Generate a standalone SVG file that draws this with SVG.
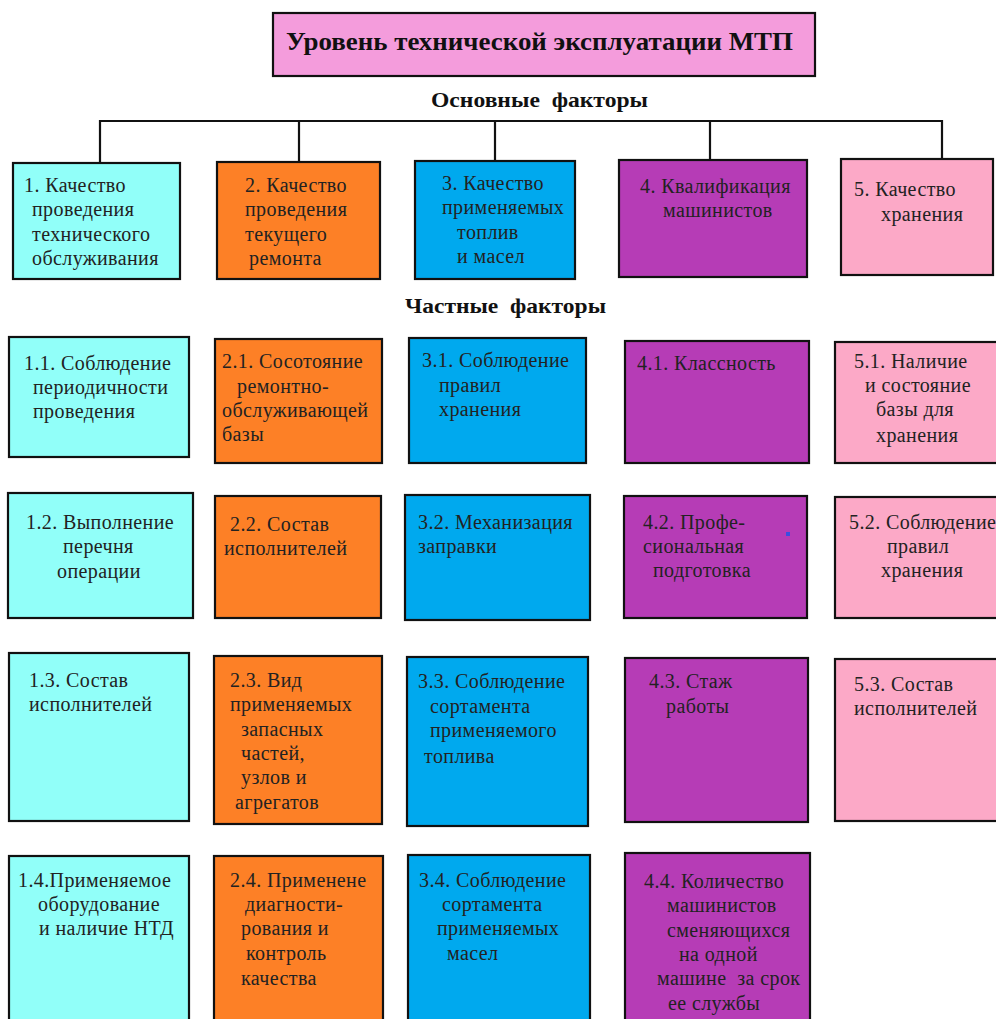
<svg xmlns="http://www.w3.org/2000/svg" width="996" height="1019" viewBox="0 0 996 1019">
<style>
.b{stroke:#111;stroke-width:2.2}
.c1{fill:#91FFF9}.c2{fill:#FD8026}.c3{fill:#00A9EE}.c4{fill:#B63CB6}.c5{fill:#FCA9C7}
.t{font-family:"Liberation Serif","Times New Roman",serif;font-size:20px;fill:#222;letter-spacing:0.4px}
.h{font-family:"Liberation Serif","Times New Roman",serif;font-weight:bold;fill:#111}
.ln{stroke:#111;stroke-width:2.2;fill:none}
</style>
<rect width="996" height="1019" fill="#fff"/>
<g id="title">
<rect class="b" x="273" y="13" width="542" height="63" fill="#F49CDC"/>
<text class="h" x="286" y="50" font-size="25" textLength="507" lengthAdjust="spacingAndGlyphs">Уровень технической эксплуатации МТП</text>
</g>
<g id="label-main"><text class="h" x="431" y="107" font-size="22" textLength="217" lengthAdjust="spacingAndGlyphs" xml:space="preserve">Основные  факторы</text></g>
<g id="label-partial"><text class="h" x="405" y="313" font-size="22" textLength="201" lengthAdjust="spacingAndGlyphs" xml:space="preserve">Частные  факторы</text></g>
<g id="connectors">
<path class="ln" d="M100 121H942M100 120V163M299 120V162M495 120V161M710 120V160M942 120V159"/>
</g>
<g id="n1"><rect class="b c1" x="13" y="163" width="167" height="116"/>
<text class="t"><tspan x="24" y="192">1. Качество</tspan><tspan x="32" y="216">проведения</tspan><tspan x="32" y="241">технического</tspan><tspan x="32" y="265">обслуживания</tspan></text></g>
<g id="n2"><rect class="b c2" x="217" y="162" width="163" height="117"/>
<text class="t"><tspan x="245" y="192">2. Качество</tspan><tspan x="245" y="216">проведения</tspan><tspan x="245" y="241">текущего</tspan><tspan x="249" y="265">ремонта</tspan></text></g>
<g id="n3"><rect class="b c3" x="415" y="161" width="160" height="118"/>
<text class="t"><tspan x="442" y="190">3. Качество</tspan><tspan x="442" y="214">применяемых</tspan><tspan x="457" y="239">топлив</tspan><tspan x="457" y="263">и масел</tspan></text></g>
<g id="n4"><rect class="b c4" x="619" y="160" width="188" height="117"/>
<text class="t"><tspan x="640" y="193">4. Квалификация</tspan><tspan x="663" y="217">машинистов</tspan></text></g>
<g id="n5"><rect class="b c5" x="841" y="159" width="152" height="116"/>
<text class="t"><tspan x="854" y="196">5. Качество</tspan><tspan x="881" y="221">хранения</tspan></text></g>

<g id="n11"><rect class="b c1" x="9" y="337" width="180" height="120"/>
<text class="t"><tspan x="24" y="370">1.1. Соблюдение</tspan><tspan x="33" y="394">периодичности</tspan><tspan x="33" y="418">проведения</tspan></text></g>
<g id="n21"><rect class="b c2" x="215" y="339" width="167" height="124"/>
<text class="t"><tspan x="222" y="368">2.1. Сосотояние</tspan><tspan x="237" y="393">ремонтно-</tspan><tspan x="222" y="417">обслуживающей</tspan><tspan x="222" y="441">базы</tspan></text></g>
<g id="n31"><rect class="b c3" x="409" y="338" width="177" height="125"/>
<text class="t"><tspan x="422" y="367">3.1. Соблюдение</tspan><tspan x="439" y="392">правил</tspan><tspan x="439" y="416">хранения</tspan></text></g>
<g id="n41"><rect class="b c4" x="625" y="341" width="184" height="122"/>
<text class="t"><tspan x="637" y="370">4.1. Классность</tspan></text></g>
<g id="n51"><rect class="b c5" x="835" y="342" width="170" height="121"/>
<text class="t"><tspan x="854" y="368">5.1. Наличие</tspan><tspan x="865" y="392">и состояние</tspan><tspan x="876" y="416">базы для</tspan><tspan x="876" y="442">хранения</tspan></text></g>

<g id="n12"><rect class="b c1" x="8" y="493" width="185" height="125"/>
<text class="t"><tspan x="26" y="529">1.2. Выполнение</tspan><tspan x="63" y="553">перечня</tspan><tspan x="57" y="578">операции</tspan></text></g>
<g id="n22"><rect class="b c2" x="215" y="496" width="166" height="122"/>
<text class="t"><tspan x="230" y="531">2.2. Состав</tspan><tspan x="224" y="555">исполнителей</tspan></text></g>
<g id="n32"><rect class="b c3" x="405" y="495" width="185" height="125"/>
<text class="t"><tspan x="418" y="529">3.2. Механизация</tspan><tspan x="418" y="553">заправки</tspan></text></g>
<g id="n42"><rect class="b c4" x="624" y="496" width="183" height="122"/>
<text class="t"><tspan x="643" y="529">4.2. Профе-</tspan><tspan x="643" y="553">сиональная</tspan><tspan x="653" y="577">подготовка</tspan></text>
<rect x="786" y="532" width="4" height="4" fill="#3A4FE0"/></g>
<g id="n52"><rect class="b c5" x="835" y="497" width="170" height="121"/>
<text class="t"><tspan x="849" y="529">5.2. Соблюдение</tspan><tspan x="887" y="553">правил</tspan><tspan x="881" y="577">хранения</tspan></text></g>

<g id="n13"><rect class="b c1" x="9" y="653" width="180" height="168"/>
<text class="t"><tspan x="29" y="687">1.3. Состав</tspan><tspan x="29" y="711">исполнителей</tspan></text></g>
<g id="n23"><rect class="b c2" x="214" y="656" width="168" height="168"/>
<text class="t"><tspan x="230" y="687">2.3. Вид</tspan><tspan x="230" y="711">применяемых</tspan><tspan x="241" y="736">запасных</tspan><tspan x="241" y="760">частей,</tspan><tspan x="241" y="784">узлов и</tspan><tspan x="235" y="809">агрегатов</tspan></text></g>
<g id="n33"><rect class="b c3" x="407" y="657" width="181" height="169"/>
<text class="t"><tspan x="418" y="688">3.3. Соблюдение</tspan><tspan x="430" y="713">сортамента</tspan><tspan x="430" y="737">применяемого</tspan><tspan x="424" y="763">топлива</tspan></text></g>
<g id="n43"><rect class="b c4" x="625" y="658" width="183" height="164"/>
<text class="t"><tspan x="649" y="688">4.3. Стаж</tspan><tspan x="666" y="713">работы</tspan></text></g>
<g id="n53"><rect class="b c5" x="835" y="659" width="170" height="162"/>
<text class="t"><tspan x="854" y="691">5.3. Состав</tspan><tspan x="854" y="715">исполнителей</tspan></text></g>

<g id="n14"><rect class="b c1" x="9" y="856" width="180" height="175"/>
<text class="t"><tspan x="18" y="887">1.4.Применяемое</tspan><tspan x="38" y="911">оборудование</tspan><tspan x="39" y="935">и наличие НТД</tspan></text></g>
<g id="n24"><rect class="b c2" x="214" y="856" width="169" height="175"/>
<text class="t"><tspan x="230" y="887">2.4. Применене</tspan><tspan x="245" y="911">диагности-</tspan><tspan x="241" y="935">рования и</tspan><tspan x="246" y="960">контроль</tspan><tspan x="241" y="985">качества</tspan></text></g>
<g id="n34"><rect class="b c3" x="408" y="855" width="182" height="176"/>
<text class="t"><tspan x="419" y="887">3.4. Соблюдение</tspan><tspan x="442" y="911">сортамента</tspan><tspan x="437" y="935">применяемых</tspan><tspan x="447" y="960">масел</tspan></text></g>
<g id="n44"><rect class="b c4" x="625" y="853" width="185" height="178"/>
<text class="t" xml:space="preserve"><tspan x="644" y="888">4.4. Количество</tspan><tspan x="667" y="912">машинистов</tspan><tspan x="667" y="937">сменяющихся</tspan><tspan x="679" y="961">на одной</tspan><tspan x="657" y="985">машине  за срок</tspan><tspan x="668" y="1010">ее службы</tspan></text></g>
</svg>
